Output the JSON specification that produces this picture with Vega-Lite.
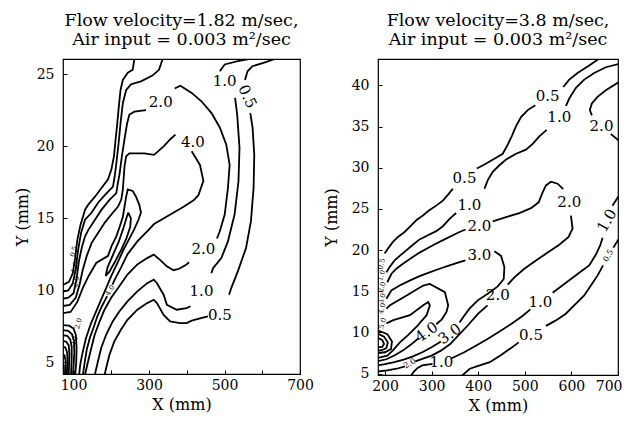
{
"$schema": "https://vega.github.io/schema/vega-lite/v6.json",
"background": "white",
"padding": {"left": 13, "top": 10, "right": 0, "bottom": 2},
"bounds": "flush",
"spacing": 78,
"datasets": {
"L1": [
{"g":"a05lo","x":181,"y":4.0},{"g":"a05lo","x":186.2,"y":4.6},{"g":"a05lo","x":195,"y":5.53},{"g":"a05lo","x":208,"y":6.46},{"g":"a05lo","x":225.4,"y":7.27},{"g":"a05lo","x":242.8,"y":7.96},{"g":"a05lo","x":269,"y":8.66},{"g":"a05lo","x":295,"y":9.12},{"g":"a05lo","x":312.5,"y":9.35},{"g":"a05lo","x":321,"y":9.12},{"g":"a05lo","x":338.6,"y":8.3},{"g":"a05lo","x":355.9,"y":7.85},{"g":"a05lo","x":382,"y":7.73},{"g":"a05lo","x":399.5,"y":7.73},{"g":"a05lo","x":413,"y":7.9},{"g":"a05lo","x":440,"y":8.1},{"g":"a05lo","x":456,"y":8.2},
{"g":"a05r","x":512,"y":9.7},{"g":"a05r","x":517.8,"y":10.16},{"g":"a05r","x":535,"y":11.3},{"g":"a05r","x":557,"y":12.94},{"g":"a05r","x":570,"y":14.8},{"g":"a05r","x":577,"y":17.1},{"g":"a05r","x":578.8,"y":19.4},{"g":"a05r","x":574.4,"y":21.27},{"g":"a05r","x":568.4,"y":22.3},
{"g":"a05t","x":554.3,"y":24.6},{"g":"a05t","x":561,"y":25.2},{"g":"a05t","x":574,"y":25.55},{"g":"a05t","x":605,"y":25.8},{"g":"a05t","x":650,"y":26.2},
{"g":"a05u","x":262,"y":26.2},{"g":"a05u","x":256.7,"y":25.3},{"g":"a05u","x":243.6,"y":25.1},{"g":"a05u","x":230.6,"y":24.6},{"g":"a05u","x":224.5,"y":23.9},{"g":"a05u","x":220.1,"y":22.8},{"g":"a05u","x":215.9,"y":21.6},{"g":"a05u","x":211.5,"y":20.5},{"g":"a05u","x":207,"y":19.3},{"g":"a05u","x":200.3,"y":18.4},{"g":"a05u","x":191.4,"y":17.7},{"g":"a05u","x":174,"y":17.1},{"g":"a05u","x":156.7,"y":16.5},{"g":"a05u","x":139,"y":15.95},{"g":"a05u","x":130.5,"y":15.6},{"g":"a05u","x":118,"y":14.5},{"g":"a05u","x":110,"y":13.5},{"g":"a05u","x":104,"y":12.2},{"g":"a05u","x":98,"y":11.2},{"g":"a05u","x":88,"y":10.6},{"g":"a05u","x":78,"y":10.45},{"g":"a05u","x":68,"y":10.4},
{"g":"a10lo","x":155,"y":4.0},{"g":"a10lo","x":164.5,"y":5.07},{"g":"a10lo","x":173.2,"y":6.0},{"g":"a10lo","x":186.2,"y":6.92},{"g":"a10lo","x":203.7,"y":7.85},{"g":"a10lo","x":221.2,"y":8.54},{"g":"a10lo","x":242.8,"y":9.24},{"g":"a10lo","x":269,"y":9.93},{"g":"a10lo","x":295,"y":10.5},{"g":"a10lo","x":312.5,"y":10.74},{"g":"a10lo","x":321,"y":10.5},{"g":"a10lo","x":338.6,"y":9.7},{"g":"a10lo","x":347.3,"y":9.0},{"g":"a10lo","x":373.4,"y":8.66},{"g":"a10lo","x":399.5,"y":8.77},{"g":"a10lo","x":410,"y":8.9},
{"g":"a10r","x":465,"y":11.2},{"g":"a10r","x":470,"y":11.55},{"g":"a10r","x":491.6,"y":12.24},{"g":"a10r","x":509,"y":13.4},{"g":"a10r","x":526.6,"y":15.26},{"g":"a10r","x":537,"y":17.57},{"g":"a10r","x":539.7,"y":19.9},{"g":"a10r","x":533.5,"y":22.2},{"g":"a10r","x":528,"y":23.35},
{"g":"a10t","x":487.5,"y":25.2},{"g":"a10t","x":500.5,"y":25.67},{"g":"a10t","x":535,"y":25.9},{"g":"a10t","x":598,"y":26.2},
{"g":"a10u","x":338,"y":26.2},{"g":"a10u","x":326.4,"y":25.3},{"g":"a10u","x":308.9,"y":24.9},{"g":"a10u","x":278.6,"y":24.5},{"g":"a10u","x":252.5,"y":24.3},{"g":"a10u","x":239.4,"y":23.9},{"g":"a10u","x":230.6,"y":23.0},{"g":"a10u","x":224.5,"y":21.6},{"g":"a10u","x":219.3,"y":20.2},{"g":"a10u","x":213.3,"y":18.8},{"g":"a10u","x":208.9,"y":17.9},{"g":"a10u","x":204.4,"y":17.2},{"g":"a10u","x":182.8,"y":16.6},{"g":"a10u","x":165.3,"y":16.1},{"g":"a10u","x":148,"y":15.4},{"g":"a10u","x":130.5,"y":14.9},{"g":"a10u","x":120,"y":14.0},{"g":"a10u","x":112,"y":12.8},{"g":"a10u","x":106,"y":11.5},{"g":"a10u","x":98,"y":10.5},{"g":"a10u","x":86,"y":10.0},{"g":"a10u","x":68,"y":9.9},
{"g":"a20lo","x":129,"y":4.0},{"g":"a20lo","x":138.4,"y":5.07},{"g":"a20lo","x":147,"y":6.0},{"g":"a20lo","x":155.9,"y":6.92},{"g":"a20lo","x":169,"y":7.85},{"g":"a20lo","x":182,"y":8.66},{"g":"a20lo","x":199.2,"y":9.47},{"g":"a20lo","x":221.2,"y":10.28},{"g":"a20lo","x":242.8,"y":11.1},{"g":"a20lo","x":269,"y":11.8},{"g":"a20lo","x":295,"y":12.24},{"g":"a20lo","x":312.5,"y":12.48},{"g":"a20lo","x":329.8,"y":12.1},{"g":"a20lo","x":347,"y":11.67},{"g":"a20lo","x":364.7,"y":11.4},{"g":"a20lo","x":380,"y":11.5},{"g":"a20lo","x":399.5,"y":11.8},{"g":"a20lo","x":406,"y":11.95},
{"g":"a20r","x":480,"y":13.6},{"g":"a20r","x":487.5,"y":14.1},{"g":"a20r","x":500.5,"y":15.26},{"g":"a20r","x":509,"y":17.1},{"g":"a20r","x":513.6,"y":18.7},{"g":"a20r","x":504.7,"y":20.1},{"g":"a20r","x":487.5,"y":21.3},{"g":"a20r","x":465.5,"y":22.3},{"g":"a20r","x":439.5,"y":23.1},{"g":"a20r","x":413,"y":23.7},{"g":"a20r","x":383,"y":24.2},{"g":"a20r","x":368,"y":24.0},
{"g":"a20u","x":292,"y":22.5},{"g":"a20u","x":261.1,"y":22.4},{"g":"a20u","x":248,"y":22.2},{"g":"a20u","x":242,"y":21.6},{"g":"a20u","x":235,"y":20.5},{"g":"a20u","x":228,"y":19.3},{"g":"a20u","x":222,"y":18.1},{"g":"a20u","x":217.5,"y":17.45},{"g":"a20u","x":213.3,"y":16.75},{"g":"a20u","x":195.8,"y":16.3},{"g":"a20u","x":174.2,"y":15.6},{"g":"a20u","x":156.7,"y":14.9},{"g":"a20u","x":139.2,"y":14.2},{"g":"a20u","x":130.5,"y":13.75},{"g":"a20u","x":122,"y":13.0},{"g":"a20u","x":114,"y":12.0},{"g":"a20u","x":108,"y":10.8},{"g":"a20u","x":100,"y":9.8},{"g":"a20u","x":86,"y":9.5},{"g":"a20u","x":68,"y":9.4},
{"g":"a40r","x":413,"y":19.65},{"g":"a40r","x":435,"y":18.7},{"g":"a40r","x":444,"y":17.6},{"g":"a40r","x":430.8,"y":16.6},{"g":"a40r","x":418,"y":16.25},{"g":"a40r","x":391.6,"y":15.8},{"g":"a40r","x":365.5,"y":15.4},{"g":"a40r","x":339.4,"y":15.0},{"g":"a40r","x":313.3,"y":14.6},{"g":"a40r","x":295,"y":14.1},{"g":"a40r","x":269,"y":13.4},{"g":"a40r","x":242.8,"y":12.5},{"g":"a40r","x":226,"y":11.6},{"g":"a40r","x":210,"y":10.8},{"g":"a40r","x":203,"y":10.4},
{"g":"a40lo","x":189,"y":9.6},{"g":"a40lo","x":175,"y":8.9},{"g":"a40lo","x":163,"y":8.2},{"g":"a40lo","x":154,"y":7.5},{"g":"a40lo","x":143,"y":6.7},{"g":"a40lo","x":135,"y":5.9},{"g":"a40lo","x":130,"y":5.1},{"g":"a40lo","x":124,"y":4.0},
{"g":"a40u","x":370,"y":20.8},{"g":"a40u","x":357,"y":20.5},{"g":"a40u","x":339.4,"y":20.0},{"g":"a40u","x":313.3,"y":19.4},{"g":"a40u","x":287.2,"y":19.5},{"g":"a40u","x":269.7,"y":19.5},{"g":"a40u","x":248,"y":19.5},{"g":"a40u","x":239.4,"y":19.3},{"g":"a40u","x":235,"y":18.6},{"g":"a40u","x":230.6,"y":17.0},{"g":"a40u","x":226.4,"y":16.3},{"g":"a40u","x":217.5,"y":15.8},{"g":"a40u","x":204.4,"y":15.4},{"g":"a40u","x":182.8,"y":14.7},{"g":"a40u","x":165.3,"y":14.0},{"g":"a40u","x":148,"y":13.3},{"g":"a40u","x":135,"y":12.4},{"g":"a40u","x":124,"y":11.4},{"g":"a40u","x":116,"y":10.4},{"g":"a40u","x":106,"y":9.5},{"g":"a40u","x":90,"y":9.0},{"g":"a40u","x":68,"y":8.9},
{"g":"aE","x":68,"y":8.4},{"g":"aE","x":92,"y":8.5},{"g":"aE","x":110,"y":9.2},{"g":"aE","x":125,"y":10.2},{"g":"aE","x":140,"y":11.0},{"g":"aE","x":160,"y":11.9},{"g":"aE","x":191.4,"y":12.4},{"g":"aE","x":200.3,"y":13.05},{"g":"aE","x":213.3,"y":13.75},{"g":"aE","x":222,"y":14.4},{"g":"aE","x":230.6,"y":15.1},{"g":"aE","x":235,"y":15.8},{"g":"aE","x":239.4,"y":16.5},{"g":"aE","x":243.6,"y":17.0},{"g":"aE","x":256.7,"y":16.9},{"g":"aE","x":265.5,"y":16.5},{"g":"aE","x":274,"y":15.95},{"g":"aE","x":278.6,"y":15.4},{"g":"aE","x":272,"y":14.9},{"g":"aE","x":260,"y":14.2},{"g":"aE","x":246,"y":13.5},{"g":"aE","x":232,"y":12.8},{"g":"aE","x":218,"y":12.0},{"g":"aE","x":200,"y":11.0},{"g":"aE","x":182,"y":9.9},{"g":"aE","x":164,"y":8.8},{"g":"aE","x":146,"y":7.7},{"g":"aE","x":133,"y":6.7},{"g":"aE","x":124,"y":5.7},{"g":"aE","x":118,"y":4.9},{"g":"aE","x":114,"y":4.0},
{"g":"aF","x":245,"y":15.4},{"g":"aF","x":252,"y":15.0},{"g":"aF","x":250,"y":14.4},{"g":"aF","x":240,"y":13.6},{"g":"aF","x":226,"y":12.8},{"g":"aF","x":210,"y":12.0},{"g":"aF","x":195,"y":11.3},{"g":"aF","x":185,"y":11.0},{"g":"aF","x":190,"y":11.6},{"g":"aF","x":205,"y":12.5},{"g":"aF","x":220,"y":13.4},{"g":"aF","x":233,"y":14.4},{"g":"aF","x":240,"y":15.0},{"g":"aF","x":245,"y":15.4},
{"g":"u1","x":68,"y":7.6},{"g":"u1","x":88,"y":7.55},{"g":"u1","x":100,"y":7.35},{"g":"u1","x":106,"y":6.9},{"g":"u1","x":108,"y":6.0},{"g":"u1","x":107,"y":5.0},{"g":"u1","x":104,"y":4.0},
{"g":"u2","x":68,"y":7.25},{"g":"u2","x":86,"y":7.2},{"g":"u2","x":96,"y":6.95},{"g":"u2","x":101,"y":6.5},{"g":"u2","x":102,"y":5.7},{"g":"u2","x":100,"y":4.8},{"g":"u2","x":98,"y":4.0},
{"g":"u3","x":68,"y":6.9},{"g":"u3","x":83,"y":6.85},{"g":"u3","x":91,"y":6.6},{"g":"u3","x":95,"y":6.1},{"g":"u3","x":95,"y":5.3},{"g":"u3","x":93,"y":4.0},
{"g":"u4","x":68,"y":6.5},{"g":"u4","x":80,"y":6.45},{"g":"u4","x":87,"y":6.2},{"g":"u4","x":89,"y":5.6},{"g":"u4","x":88,"y":4.8},{"g":"u4","x":87,"y":4.0},
{"g":"u5","x":68,"y":6.1},{"g":"u5","x":78,"y":6.05},{"g":"u5","x":83,"y":5.7},{"g":"u5","x":84,"y":5.1},{"g":"u5","x":82,"y":4.0},
{"g":"u6","x":68,"y":5.6},{"g":"u6","x":76,"y":5.5},{"g":"u6","x":79,"y":5.1},{"g":"u6","x":79,"y":4.0},
{"g":"u7","x":68,"y":5.0},{"g":"u7","x":74,"y":4.8},{"g":"u7","x":75,"y":4.0}
],
"T1h": [
{"x":500.5,"y":24.5,"t":"1.0"},{"x":331,"y":23.05,"t":"2.0"},{"x":416,"y":20.3,"t":"4.0"},{"x":444,"y":12.85,"t":"2.0"},{"x":439,"y":9.93,"t":"1.0"},{"x":487.5,"y":8.3,"t":"0.5"}
],
"T1r": [{"x":561,"y":23.45,"t":"0.5"}],
"T1s": [{"x":197,"y":10.0,"t":"4.0"}],
"T1b": [{"x":101,"y":12.7,"t":"0.5"},{"x":104,"y":11.6,"t":"1.0"},{"x":107,"y":10.6,"t":"2.0"},{"x":113,"y":7.7,"t":"2.0"},{"x":103,"y":6.5,"t":"10"}],
"L2": [
{"g":"b05a","x":666,"y":43.5},{"g":"b05a","x":638.2,"y":42.4},{"g":"b05a","x":613.2,"y":41.5},{"g":"b05a","x":595.4,"y":40.7},{"g":"b05a","x":582.5,"y":39.8},
{"g":"b05b","x":522.6,"y":37.6},{"g":"b05b","x":506.2,"y":37.0},{"g":"b05b","x":491.9,"y":36.15},{"g":"b05b","x":481.2,"y":35.05},{"g":"b05b","x":472.6,"y":33.9},{"g":"b05b","x":463.4,"y":32.8},{"g":"b05b","x":452.7,"y":31.7},{"g":"b05b","x":434.8,"y":31.1},{"g":"b05b","x":413.4,"y":30.4},{"g":"b05b","x":397,"y":29.9},
{"g":"b05c","x":345.6,"y":27.45},{"g":"b05c","x":334.9,"y":26.7},{"g":"b05c","x":324.2,"y":26.0},{"g":"b05c","x":309.9,"y":25.4},{"g":"b05c","x":294.2,"y":24.8},{"g":"b05c","x":281.4,"y":24.2},{"g":"b05c","x":268.5,"y":23.7},{"g":"b05c","x":256.4,"y":23.0},{"g":"b05c","x":242.1,"y":22.2},{"g":"b05c","x":227.8,"y":21.6},{"g":"b05c","x":217.1,"y":21.0},{"g":"b05c","x":206.4,"y":20.2},{"g":"b05c","x":199.3,"y":19.6},
{"g":"b10a","x":702,"y":42.6},{"g":"b10a","x":673.9,"y":42.2},{"g":"b10a","x":648.9,"y":41.5},{"g":"b10a","x":627.5,"y":40.7},{"g":"b10a","x":609.7,"y":39.7},{"g":"b10a","x":595.4,"y":38.4},{"g":"b10a","x":588.3,"y":37.5},
{"g":"b10b","x":546.9,"y":34.6},{"g":"b10b","x":531.2,"y":33.8},{"g":"b10b","x":516.9,"y":32.9},{"g":"b10b","x":502.6,"y":32.2},{"g":"b10b","x":481.2,"y":31.7},{"g":"b10b","x":459.8,"y":31.0},{"g":"b10b","x":445.5,"y":30.3},{"g":"b10b","x":431.2,"y":29.5},{"g":"b10b","x":420.5,"y":28.5},{"g":"b10b","x":413.4,"y":27.45},
{"g":"b10c","x":352.7,"y":24.5},{"g":"b10c","x":338.5,"y":23.8},{"g":"b10c","x":324.2,"y":22.9},{"g":"b10c","x":309.9,"y":22.3},{"g":"b10c","x":292.1,"y":21.8},{"g":"b10c","x":274.2,"y":21.3},{"g":"b10c","x":260,"y":20.65},{"g":"b10c","x":245.7,"y":19.97},{"g":"b10c","x":232.8,"y":19.36},{"g":"b10c","x":220.7,"y":18.75},{"g":"b10c","x":210,"y":17.94},{"g":"b10c","x":203,"y":17.3},
{"g":"b20a","x":372.7,"y":22.5},{"g":"b20a","x":359.9,"y":22.2},{"g":"b20a","x":345.6,"y":21.8},{"g":"b20a","x":327.8,"y":21.3},{"g":"b20a","x":309.9,"y":20.8},{"g":"b20a","x":292.1,"y":20.25},{"g":"b20a","x":274.2,"y":19.7},{"g":"b20a","x":256.4,"y":19.04},{"g":"b20a","x":238.5,"y":18.35},{"g":"b20a","x":224.3,"y":17.74},{"g":"b20a","x":213.6,"y":17.1},{"g":"b20a","x":205,"y":16.1},
{"g":"b20b","x":431.2,"y":23.5},{"g":"b20b","x":459.8,"y":24.0},{"g":"b20b","x":488.3,"y":24.5},{"g":"b20b","x":513.3,"y":25.1},{"g":"b20b","x":529.7,"y":25.8},{"g":"b20b","x":538.3,"y":27.0},{"g":"b20b","x":545.4,"y":27.85},{"g":"b20b","x":556.1,"y":28.3},{"g":"b20b","x":570.4,"y":28.06},{"g":"b20b","x":582.5,"y":27.4},
{"g":"b20c","x":599,"y":24.2},{"g":"b20c","x":602.5,"y":22.6},{"g":"b20c","x":594,"y":21.6},{"g":"b20c","x":574,"y":20.65},{"g":"b20c","x":549,"y":19.7},{"g":"b20c","x":524,"y":18.75},{"g":"b20c","x":499,"y":17.74},{"g":"b20c","x":477.6,"y":16.7},{"g":"b20c","x":463.4,"y":15.8},
{"g":"b20d","x":420,"y":13.3},{"g":"b20d","x":400,"y":12.3},{"g":"b20d","x":380,"y":11.0},{"g":"b20d","x":360,"y":9.8},{"g":"b20d","x":340,"y":8.6},{"g":"b20d","x":320,"y":7.8},{"g":"b20d","x":300,"y":7.2},{"g":"b20d","x":280,"y":6.8},{"g":"b20d","x":265,"y":6.5},
{"g":"b20e","x":243,"y":5.9},{"g":"b20e","x":225,"y":5.6},{"g":"b20e","x":205,"y":5.4},{"g":"b20e","x":183,"y":5.25},
{"g":"b20tr","x":702,"y":40.4},{"g":"b20tr","x":673.9,"y":39.4},{"g":"b20tr","x":656,"y":38.6},{"g":"b20tr","x":643.9,"y":37.8},{"g":"b20tr","x":639.6,"y":37.0},{"g":"b20tr","x":643.9,"y":36.35},
{"g":"b20tr2","x":684.6,"y":34.1},{"g":"b20tr2","x":702,"y":33.3},
{"g":"b30a","x":203,"y":14.1},{"g":"b30a","x":213.6,"y":15.1},{"g":"b30a","x":231.4,"y":15.7},{"g":"b30a","x":252.8,"y":16.3},{"g":"b30a","x":274.2,"y":16.85},{"g":"b30a","x":295.6,"y":17.3},{"g":"b30a","x":317,"y":17.74},{"g":"b30a","x":338.5,"y":18.15},{"g":"b30a","x":359.9,"y":18.55},{"g":"b30a","x":372.7,"y":18.75},
{"g":"b30b","x":434.8,"y":19.85},{"g":"b30b","x":449.1,"y":19.3},{"g":"b30b","x":456.2,"y":17.94},{"g":"b30b","x":454.8,"y":16.5},{"g":"b30b","x":442,"y":15.6},{"g":"b30b","x":420.5,"y":14.7},{"g":"b30b","x":399.1,"y":13.9},{"g":"b30b","x":381.3,"y":12.9},{"g":"b30b","x":368.4,"y":11.9},{"g":"b30b","x":360,"y":11.2},
{"g":"b30c","x":320,"y":8.9},{"g":"b30c","x":300,"y":8.2},{"g":"b30c","x":280,"y":7.6},{"g":"b30c","x":260,"y":7.1},{"g":"b30c","x":240,"y":6.7},{"g":"b30c","x":220,"y":6.4},{"g":"b30c","x":200,"y":6.15},{"g":"b30c","x":183,"y":6.0},
{"g":"b40","x":203,"y":12.9},{"g":"b40","x":210.7,"y":13.3},{"g":"b40","x":246.4,"y":14.5},{"g":"b40","x":282,"y":15.7},{"g":"b40","x":296.3,"y":15.9},{"g":"b40","x":328.5,"y":14.9},{"g":"b40","x":335.6,"y":13.3},{"g":"b40","x":332,"y":12.5},{"g":"b40","x":322,"y":11.6},{"g":"b40","x":310,"y":11.0},
{"g":"b40b","x":272,"y":9.3},{"g":"b40b","x":255,"y":8.5},{"g":"b40b","x":238,"y":7.8},{"g":"b40b","x":220,"y":7.2},{"g":"b40b","x":203,"y":6.75},{"g":"b40b","x":183,"y":6.5},
{"g":"b50","x":203,"y":11.1},{"g":"b50","x":217.8,"y":11.5},{"g":"b50","x":253.5,"y":12.1},{"g":"b50","x":282,"y":13.3},{"g":"b50","x":292.7,"y":13.7},{"g":"b50","x":296.3,"y":13.3},{"g":"b50","x":289.3,"y":12.1},{"g":"b50","x":267.8,"y":10.7},{"g":"b50","x":250,"y":9.7},{"g":"b50","x":232,"y":8.8},{"g":"b50","x":218,"y":7.9},{"g":"b50","x":205,"y":7.2},{"g":"b50","x":183,"y":6.9},
{"g":"s1","x":183,"y":10.3},{"g":"s1","x":205,"y":9.8},{"g":"s1","x":215,"y":8.9},{"g":"s1","x":213,"y":8.0},{"g":"s1","x":200,"y":7.6},{"g":"s1","x":183,"y":7.5},
{"g":"s2","x":183,"y":9.9},{"g":"s2","x":198,"y":9.5},{"g":"s2","x":206,"y":8.8},{"g":"s2","x":203,"y":8.1},{"g":"s2","x":193,"y":7.85},{"g":"s2","x":183,"y":7.8},
{"g":"s3","x":183,"y":9.4},{"g":"s3","x":194,"y":9.1},{"g":"s3","x":198,"y":8.6},{"g":"s3","x":194,"y":8.25},{"g":"s3","x":183,"y":8.2},
{"g":"b10lo","x":255,"y":4.7},{"g":"b10lo","x":262,"y":5.25},{"g":"b10lo","x":270,"y":5.7},{"g":"b10lo","x":280,"y":6.0},{"g":"b10lo","x":302,"y":6.2},
{"g":"b10r","x":342,"y":6.85},{"g":"b10r","x":370,"y":7.6},{"g":"b10r","x":395,"y":8.4},{"g":"b10r","x":420,"y":9.2},{"g":"b10r","x":445,"y":10.1},{"g":"b10r","x":470,"y":11.0},{"g":"b10r","x":495,"y":12.0},{"g":"b10r","x":512,"y":12.8},
{"g":"b10r2","x":559.7,"y":14.83},{"g":"b10r2","x":588.3,"y":16.04},{"g":"b10r2","x":616.8,"y":17.26},{"g":"b10r2","x":638.2,"y":18.15},{"g":"b10r2","x":652,"y":19.4},{"g":"b10r2","x":662,"y":20.6},{"g":"b10r2","x":667,"y":21.5},
{"g":"b10r3","x":688,"y":25.4},{"g":"b10r3","x":702,"y":26.6},
{"g":"b05lo","x":362,"y":4.6},{"g":"b05lo","x":382,"y":5.6},{"g":"b05lo","x":403.4,"y":6.0},{"g":"b05lo","x":424.8,"y":6.4},{"g":"b05lo","x":450,"y":7.3},{"g":"b05lo","x":470,"y":8.1},{"g":"b05lo","x":487,"y":8.8},
{"g":"b05r","x":545.4,"y":10.8},{"g":"b05r","x":566.8,"y":11.47},{"g":"b05r","x":588,"y":12.28},{"g":"b05r","x":609.7,"y":13.5},{"g":"b05r","x":627.5,"y":14.5},{"g":"b05r","x":641.8,"y":15.7},{"g":"b05r","x":656,"y":16.9},{"g":"b05r","x":668,"y":18.15},
{"g":"b05r2","x":690,"y":20.3},{"g":"b05r2","x":702,"y":21.4}
],
"T2h": [
{"x":549,"y":38.65,"t":"0.5"},{"x":574,"y":36.15,"t":"1.0"},{"x":664.6,"y":35.05,"t":"2.0"},{"x":370.6,"y":28.7,"t":"0.5"},{"x":381.3,"y":25.5,"t":"1.0"},{"x":595.4,"y":25.8,"t":"2.0"},{"x":402.7,"y":22.9,"t":"2.0"},{"x":402.7,"y":19.36,"t":"3.0"},{"x":442,"y":14.5,"t":"2.0"},{"x":533.3,"y":13.7,"t":"1.0"},{"x":513.3,"y":9.65,"t":"0.5"},{"x":321,"y":6.45,"t":"1.0"}
],
"T2a": [{"x":339,"y":9.85,"t":"3.0"},{"x":289,"y":10.06,"t":"4.0"}],
"T2c": [{"x":676,"y":23.6,"t":"1.0"}],
"T2s": [{"x":680,"y":19.3,"t":"0.5"}],
"T2t": [{"x":253.5,"y":6.2,"t":"2.0"}],
"T2b": [{"x":193,"y":18.3,"t":"0.5"},{"x":193,"y":16.9,"t":"1.0"},{"x":194,"y":15.5,"t":"2.0"},{"x":194,"y":14.1,"t":"3.0"},{"x":194,"y":12.9,"t":"4.0"},{"x":195,"y":11.1,"t":"5.0"}]
},
"hconcat": [
{
"width": 237, "height": 315,
"title": {"text": ["Flow velocity=1.82 m/sec,", "Air input = 0.003 m²/sec"]},
"encoding": {
"x": {"field": "x", "type": "quantitative", "scale": {"domain": [72, 700], "nice": false, "zero": false}, "axis": {"values": [100,200,300,400,500,600,700], "labelExpr": "datum.value % 200 == 100 ? datum.label : ''", "labelFlush": false, "title": "X (mm)"}},
"y": {"field": "y", "type": "quantitative", "scale": {"domain": [4.2, 26.05], "nice": false, "zero": false}, "axis": {"values": [5,10,15,20,25], "title": "Y (mm)"}}
},
"layer": [
{"data": {"name": "L1"}, "mark": {"type": "line", "color": "black", "strokeWidth": 1.8, "clip": true}, "encoding": {"detail": {"field": "g"}, "order": {"value": null}}},
{"data": {"name": "T1h"}, "mark": {"type": "text", "fontSize": 15, "baseline": "middle"}, "encoding": {"text": {"field": "t"}}},
{"data": {"name": "T1r"}, "mark": {"type": "text", "fontSize": 15, "baseline": "middle", "angle": 65}, "encoding": {"text": {"field": "t"}}},
{"data": {"name": "T1s"}, "mark": {"type": "text", "fontSize": 7, "baseline": "middle", "angle": -60}, "encoding": {"text": {"field": "t"}}},
{"data": {"name": "T1b"}, "mark": {"type": "text", "fontSize": 7, "baseline": "middle", "angle": -75}, "encoding": {"text": {"field": "t"}}}
]
},
{
"width": 240, "height": 316,
"title": {"text": ["Flow velocity=3.8 m/sec,", "Air input = 0.003 m²/sec"]},
"encoding": {
"x": {"field": "x", "type": "quantitative", "scale": {"domain": [185, 700], "nice": false, "zero": false}, "axis": {"values": [200,300,400,500,600,700], "labelFlush": true, "labelFlushOffset": 4, "title": "X (mm)"}},
"y": {"field": "y", "type": "quantitative", "scale": {"domain": [4.84, 43.2], "nice": false, "zero": false}, "axis": {"values": [5,10,15,20,25,30,35,40], "title": "Y (mm)", "titlePadding": 12}}
},
"layer": [
{"data": {"name": "L2"}, "mark": {"type": "line", "color": "black", "strokeWidth": 1.8, "clip": true}, "encoding": {"detail": {"field": "g"}, "order": {"value": null}}},
{"data": {"name": "T2h"}, "mark": {"type": "text", "fontSize": 15, "baseline": "middle"}, "encoding": {"text": {"field": "t"}}},
{"data": {"name": "T2a"}, "mark": {"type": "text", "fontSize": 15, "baseline": "middle", "angle": -35}, "encoding": {"text": {"field": "t"}}},
{"data": {"name": "T2c"}, "mark": {"type": "text", "fontSize": 15, "baseline": "middle", "angle": -60}, "encoding": {"text": {"field": "t"}}},
{"data": {"name": "T2s"}, "mark": {"type": "text", "fontSize": 8, "baseline": "middle", "angle": -60}, "encoding": {"text": {"field": "t"}}},
{"data": {"name": "T2t"}, "mark": {"type": "text", "fontSize": 8, "baseline": "middle", "angle": -30}, "encoding": {"text": {"field": "t"}}},
{"data": {"name": "T2b"}, "mark": {"type": "text", "fontSize": 7, "baseline": "middle", "angle": -75}, "encoding": {"text": {"field": "t"}}}
]
}
],
"config": {
"font": "DejaVu Serif",
"view": {"stroke": "black", "strokeWidth": 1.2},
"axis": {"labelFont": "DejaVu Serif", "labelFontSize": 14, "labelColor": "black", "titleFont": "DejaVu Serif", "titleFontSize": 16, "titleFontWeight": "normal", "titleColor": "black", "grid": false, "domain": false, "tickColor": "black", "tickSize": -4, "tickWidth": 1},
"axisX": {"labelPadding": 8, "titlePadding": 4},
"axisY": {"labelPadding": 13, "titlePadding": 6},
"title": {"font": "DejaVu Serif", "fontSize": 17.5, "fontWeight": "normal", "color": "black", "lineHeight": 19, "offset": 11, "anchor": "middle"},
"text": {"font": "DejaVu Serif", "color": "black"}
}
}
